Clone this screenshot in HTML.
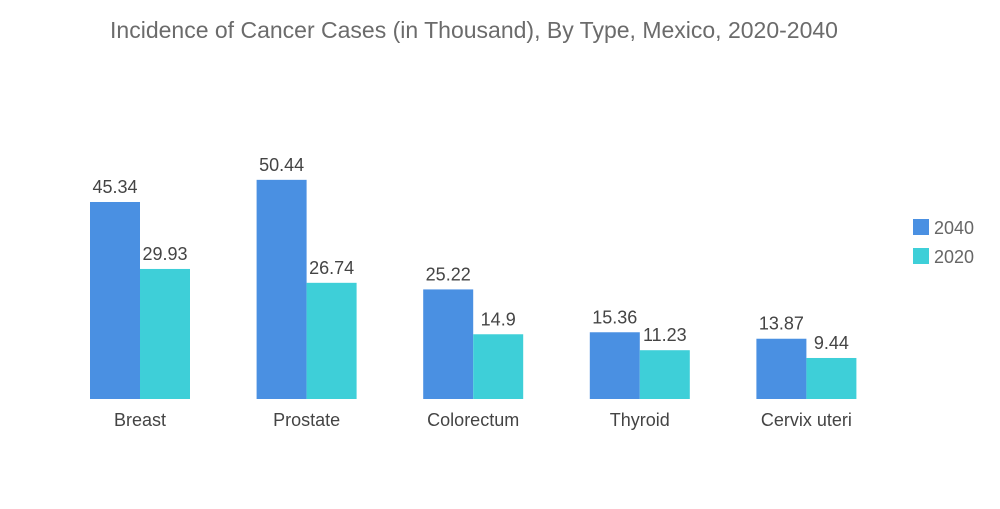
<!DOCTYPE html>
<html><head><meta charset="utf-8"><style>
body{margin:0;background:#fff;font-family:"Liberation Sans",sans-serif;}
svg text{font-family:"Liberation Sans",sans-serif;}
</style></head><body>
<svg id="chart" width="1000" height="504">
<text x="474" y="38" text-anchor="middle" font-size="23" fill="#6b6b6b">Incidence of Cancer Cases (in Thousand), By Type, Mexico, 2020-2040</text>
<g>
<rect x="913" y="219" width="16" height="16" fill="#4a90e2"/>
<text x="934" y="234" font-size="18" fill="#666">2040</text>
<rect x="913" y="248" width="16" height="16" fill="#3ecfd8"/>
<text x="934" y="263" font-size="18" fill="#666">2020</text>
</g>
<g id="bars"></g>
</svg>
<script>
const categories=["Breast","Prostate","Colorectum","Thyroid","Cervix uteri"];
const values2040=[45.34,50.44,25.22,15.36,13.87];
const values2020=[29.93,26.74,14.9,11.23,9.44];
const labels2040=["45.34","50.44","25.22","15.36","13.87"];
const labels2020=["29.93","26.74","14.9","11.23","9.44"];
const NS="http://www.w3.org/2000/svg";
const baseY=399, scale=4.345, groupStart=90, groupStep=166.6, bw=50;
const y=v=>baseY-v*scale;
const g=document.getElementById('bars');
function mk(tag,attrs,txt){const e=document.createElementNS(NS,tag);for(const k in attrs)e.setAttribute(k,attrs[k]);if(txt!==undefined)e.textContent=txt;g.appendChild(e);return e;}
categories.forEach((c,i)=>{
  const x0=groupStart+i*groupStep;
  [[values2040,labels2040,"#4a90e2",0,"2040"],[values2020,labels2020,"#3ecfd8",bw,"2020"]].forEach(([vals,labs,col,off,s])=>{
    const r=mk('rect',{x:x0+off,y:y(vals[i]),width:bw,height:baseY-y(vals[i]),fill:col});
    
    
    const t=mk('text',{x:x0+off+bw/2,y:y(vals[i])-9,'text-anchor':'middle','font-size':18,fill:'#444'},labs[i]);
    
    
  });
  const t=mk('text',{x:x0+bw,y:426,'text-anchor':'middle','font-size':18,fill:'#444'},c);
  
  
});
</script>
</body></html>
